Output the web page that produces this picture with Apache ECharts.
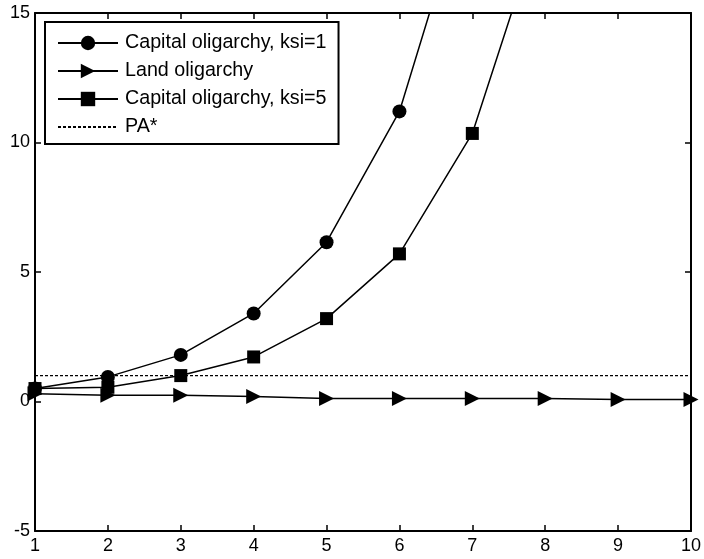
<!DOCTYPE html>
<html>
<head>
<meta charset="utf-8">
<script src="https://cdn.jsdelivr.net/npm/echarts@6/dist/echarts.min.js"></script>
<style>html,body{margin:0;padding:0;background:#fff}#c{width:704px;height:559px}</style>
</head>
<body>
<div id="c"></div>
<script>
var xValues = [1, 2, 3, 4, 5, 6, 7, 8, 9, 10];
var capitalKsi1 = [0.5, 0.95, 1.8, 3.4, 6.15, 11.2, 20.4, 37, 67, 121];
var landOligarchy = [0.3, 0.24, 0.24, 0.19, 0.12, 0.12, 0.12, 0.12, 0.08, 0.08];
var capitalKsi5 = [0.5, 0.55, 1.0, 1.72, 3.2, 5.7, 10.35, 19, 35, 64];
var paStar = [1, 1];
var paX = [1, 10];
var yTicks = [-5, 0, 5, 10, 15];

function pairs(xs, ys) { return xs.map(function (x, i) { return [x, ys[i]]; }); }

var font = 'Liberation Sans, Arial, sans-serif';
var chart = echarts.init(document.getElementById('c'), null, {renderer: 'canvas'});
var axisLine = {show: true, onZero: false, lineStyle: {color: '#000', width: 2}};
var tick = {show: true, inside: true, length: 6, lineStyle: {color: '#000', width: 1.5}};
chart.setOption({
  animation: false,
  backgroundColor: '#fff',
  grid: {left: 35, right: 13, top: 13, bottom: 28, containLabel: false},
  legend: {
    orient: 'vertical', left: 45, top: 22,
    backgroundColor: '#fff', borderColor: '#000', borderWidth: 2, borderRadius: 0,
    padding: [11, 12, 7, 12], itemGap: 8, itemWidth: 60, itemHeight: 18,
    textStyle: {fontFamily: font, fontSize: 19.7, color: '#000', padding: [0, 0, 0, 2]},
    data: ['Capital oligarchy, ksi=1', 'Land oligarchy', 'Capital oligarchy, ksi=5',
      {name: 'PA*', itemStyle: {color: 'rgba(0,0,0,0)', borderWidth: 0}}]
  },
  xAxis: [{
    type: 'value', min: 1, max: 10, interval: 1, position: 'bottom',
    axisLine: axisLine, axisTick: tick, splitLine: {show: false},
    axisLabel: {fontFamily: font, fontSize: 18, color: '#000', margin: 6}
  }, {
    type: 'value', min: 1, max: 10, interval: 1, position: 'top',
    axisLine: axisLine, axisTick: tick, splitLine: {show: false}, axisLabel: {show: false}
  }],
  yAxis: [{
    type: 'value', min: yTicks[0], max: yTicks[yTicks.length - 1], interval: 5, position: 'left',
    axisLine: axisLine, axisTick: tick, splitLine: {show: false},
    axisLabel: {fontFamily: font, fontSize: 18, color: '#000', margin: 5}
  }, {
    type: 'value', min: yTicks[0], max: yTicks[yTicks.length - 1], interval: 5, position: 'right',
    axisLine: axisLine, axisTick: tick, splitLine: {show: false}, axisLabel: {show: false}
  }],
  series: [{
    name: 'Capital oligarchy, ksi=1', type: 'line', data: pairs(xValues, capitalKsi1),
    symbol: 'circle', symbolSize: 14, clip: true,
    lineStyle: {color: '#000', width: 1.5}, itemStyle: {color: '#000'}
  }, {
    name: 'Land oligarchy', type: 'line', data: pairs(xValues, landOligarchy),
    symbol: 'triangle', symbolSize: [15, 15], symbolRotate: -90, clip: true,
    lineStyle: {color: '#000', width: 1.5}, itemStyle: {color: '#000'}
  }, {
    name: 'Capital oligarchy, ksi=5', type: 'line', data: pairs(xValues, capitalKsi5),
    symbol: 'rect', symbolSize: 13, clip: true,
    lineStyle: {color: '#000', width: 1.5}, itemStyle: {color: '#000'}
  }, {
    name: 'PA*', type: 'line', data: pairs(paX, paStar), symbol: 'none',
    lineStyle: {color: '#000', width: 1.2, type: [3, 2]}, itemStyle: {color: '#000'}
  }]
});
</script>
</body>
</html>
